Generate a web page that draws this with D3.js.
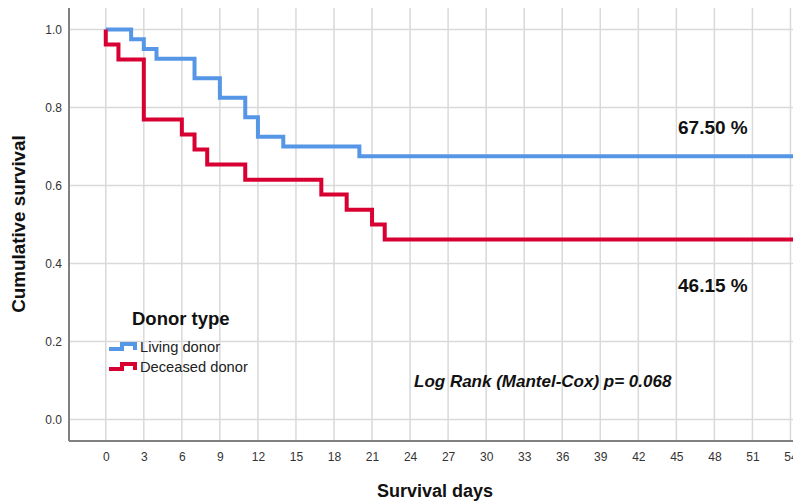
<!DOCTYPE html>
<html>
<head>
<meta charset="utf-8">
<script src="https://cdn.jsdelivr.net/npm/d3@7"></script>
<style>
  body { margin: 0; background: #fff; }
  svg { display: block; font-family: Arial, "Liberation Sans", sans-serif; }
</style>
</head>
<body>
<svg id="chart" width="793" height="501"></svg>
<script>
// Kaplan-Meier steps
var livingTimes = [0, 2, 3, 4, 7, 9, 11, 12, 14, 20, 54.5];
var livingSurv  = [1.0, 0.975, 0.95, 0.925, 0.875, 0.825, 0.775, 0.725, 0.70, 0.675, 0.675];
var deceasedTimes = [0, 0, 1, 3, 6, 7, 8, 11, 17, 19, 21, 22, 54.5];
var deceasedSurv  = [1.0, 0.9615, 0.923, 0.769, 0.731, 0.692, 0.654, 0.615, 0.577, 0.538, 0.50, 0.4615, 0.4615];
var xTicks = d3.range(0, 55, 3);
var yTicks = [0, 0.2, 0.4, 0.6, 0.8, 1.0];
var seriesNames = ["Living donor", "Deceased donor"];
var seriesColors = ["#5596e6", "#d80032"];

var svg = d3.select("#chart");
var plotLeft = 69, plotRight = 793, plotTop = 8, plotBottom = 441;

var x = d3.scaleLinear().domain([-2.9, 54.2]).range([plotLeft, plotRight]);
var y = d3.scaleLinear().domain([-0.055, 1.055]).range([plotBottom, plotTop]);

// grid
svg.append("g").selectAll("line").data(xTicks).enter().append("line")
    .attr("x1", function(d){ return x(d); }).attr("x2", function(d){ return x(d); })
    .attr("y1", plotTop).attr("y2", plotBottom)
    .attr("stroke", "#d9d9d9").attr("stroke-width", 1.5);
svg.append("g").selectAll("line").data(yTicks).enter().append("line")
    .attr("x1", plotLeft).attr("x2", plotRight)
    .attr("y1", function(d){ return y(d); }).attr("y2", function(d){ return y(d); })
    .attr("stroke", "#d9d9d9").attr("stroke-width", 1.5);

// axes
var xAxis = svg.append("g").attr("transform", "translate(0," + plotBottom + ")")
    .call(d3.axisBottom(x).tickValues(xTicks).tickSize(0).tickPadding(11));
var yAxis = svg.append("g").attr("transform", "translate(" + plotLeft + ",0)")
    .call(d3.axisLeft(y).tickValues(yTicks).tickSize(0).tickPadding(7).tickFormat(d3.format(".1f")));
[xAxis, yAxis].forEach(function(a){
    a.select(".domain").attr("stroke", "#808080").attr("stroke-width", 2);
    a.selectAll("text").attr("font-size", 12).attr("fill", "#333")
        .attr("font-family", "Arial, 'Liberation Sans', sans-serif");
});
xAxis.select(".domain").attr("d", "M" + plotLeft + ",0H" + plotRight);
yAxis.select(".domain").attr("d", "M0," + plotTop + "V" + plotBottom);

// curves
var line = d3.line().curve(d3.curveStepAfter)
    .x(function(d){ return x(d[0]); }).y(function(d){ return y(d[1]); });
var series = [d3.zip(livingTimes, livingSurv), d3.zip(deceasedTimes, deceasedSurv)];
svg.append("g").selectAll("path").data(series).enter().append("path")
    .attr("d", line).attr("fill", "none")
    .attr("stroke", function(d, i){ return seriesColors[i]; })
    .attr("stroke-width", 4).attr("stroke-linejoin", "miter");

// annotations
svg.append("text").attr("x", 678).attr("y", 134).text("67.50 %")
    .attr("font-size", 19).attr("font-weight", "bold").attr("fill", "#111");
svg.append("text").attr("x", 678).attr("y", 292).text("46.15 %")
    .attr("font-size", 19).attr("font-weight", "bold").attr("fill", "#111");
svg.append("text").attr("x", 414).attr("y", 387).text("Log Rank (Mantel-Cox) p= 0.068")
    .attr("font-size", 17).attr("font-weight", "bold").attr("font-style", "italic").attr("fill", "#111");

// legend
svg.append("text").attr("x", 132).attr("y", 325).text("Donor type")
    .attr("font-size", 18.5).attr("font-weight", "bold").attr("fill", "#111");
var leg = svg.append("g").selectAll("g").data(seriesNames).enter().append("g")
    .attr("transform", function(d, i){ return "translate(109," + (345 + i * 20) + ")"; });
leg.append("path").attr("d", "M0,4H13V-1H26V5")
    .attr("fill", "none").attr("stroke-width", 4)
    .attr("stroke", function(d, i){ return seriesColors[i]; });
leg.append("text").attr("x", 31).attr("y", 6.5).text(function(d){ return d; })
    .attr("font-size", 14.7).attr("fill", "#222");

// axis titles
svg.append("text").attr("x", 435).attr("y", 497).attr("text-anchor", "middle")
    .text("Survival days").attr("font-size", 18).attr("font-weight", "bold").attr("fill", "#111");
svg.append("text").attr("transform", "translate(25,224) rotate(-90)").attr("text-anchor", "middle")
    .text("Cumulative survival").attr("font-size", 18.8).attr("font-weight", "bold").attr("fill", "#111");
</script>
</body>
</html>
